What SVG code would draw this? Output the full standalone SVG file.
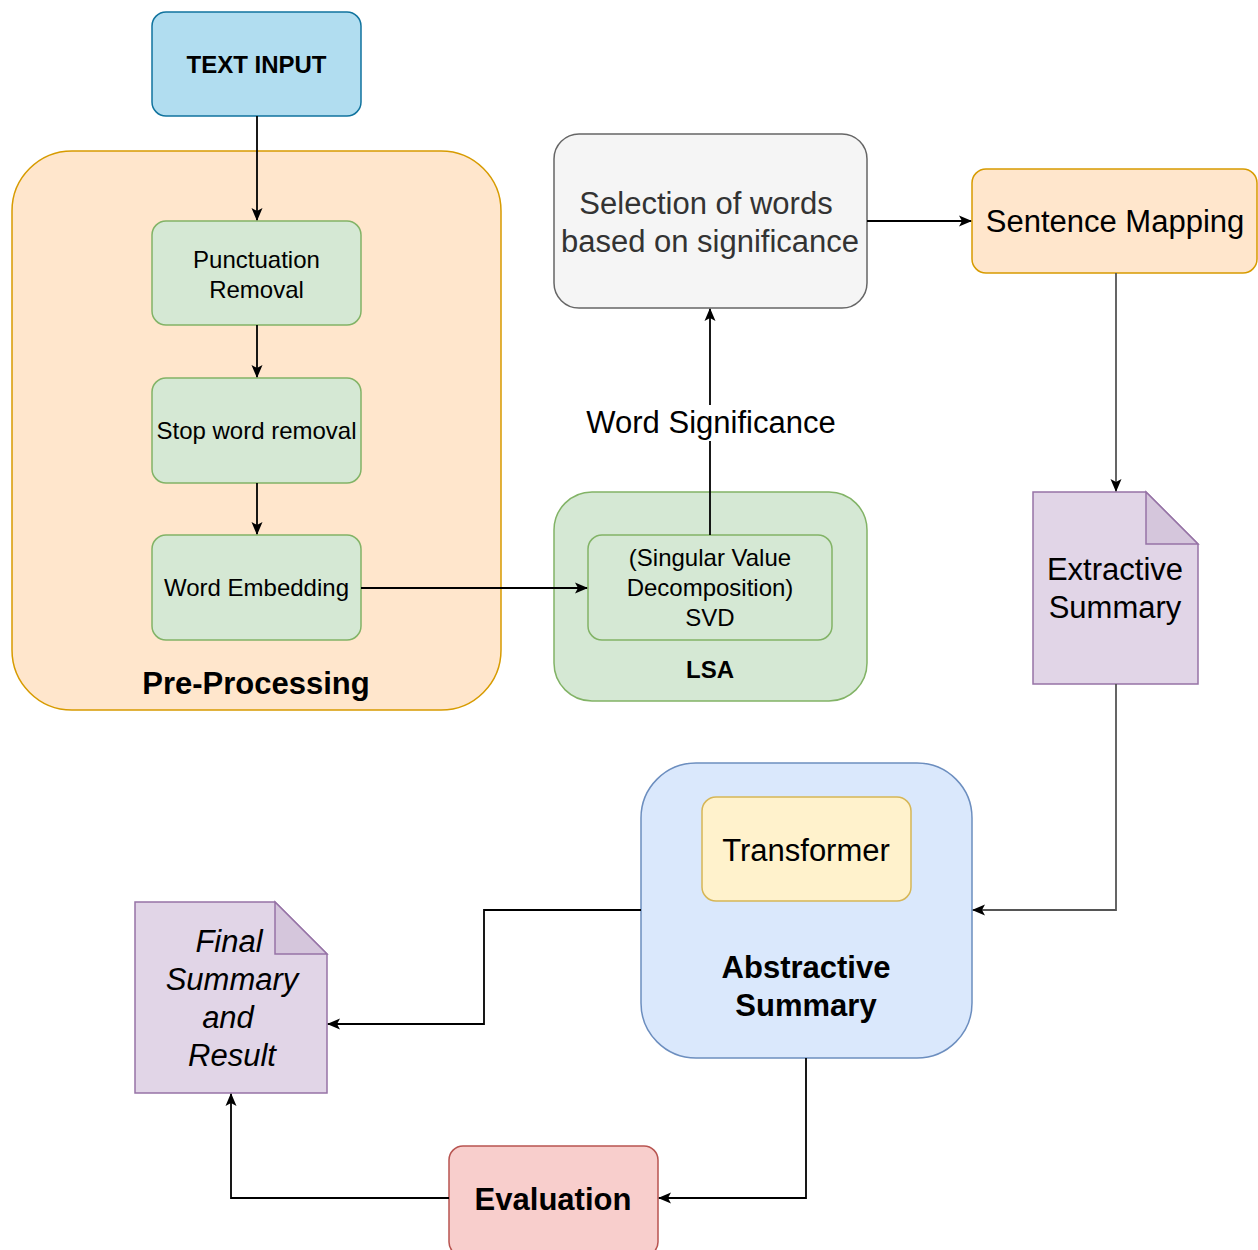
<svg xmlns="http://www.w3.org/2000/svg" width="1258" height="1250" viewBox="0 0 1258 1250">
  <defs>
    <style>
      text { font-family: "Liberation Sans", Arial, Helvetica, sans-serif; fill: #000; text-anchor: middle; }
      .s24 { font-size: 24px; }
      .s30 { font-size: 31px; }
      .b { font-weight: bold; }
      .i { font-style: italic; }
      .blue { fill: #b1ddf0; stroke: #10739e; stroke-width: 1.5; }
      .orange { fill: #ffe6cc; stroke: #d79b00; stroke-width: 1.5; }
      .green { fill: #d5e8d4; stroke: #82b366; stroke-width: 1.5; }
      .grey { fill: #f5f5f5; stroke: #666666; stroke-width: 1.5; }
      .purple { fill: #e1d5e7; stroke: #9673a6; stroke-width: 1.5; }
      .fold { fill: #d5c6dc; stroke: #9673a6; stroke-width: 1.5; }
      .lblue { fill: #dae8fc; stroke: #6c8ebf; stroke-width: 1.5; }
      .yellow { fill: #fff2cc; stroke: #d6b656; stroke-width: 1.5; }
      .red { fill: #f8cecc; stroke: #b85450; stroke-width: 1.5; }
      .edge { fill: none; stroke: #000; stroke-width: 1.8; marker-end: url(#arrow); }
      .edge-grey { fill: none; stroke: #555; stroke-width: 1.8; marker-end: url(#arrow); }
    </style>
    <marker id="arrow" markerWidth="15" markerHeight="14" refX="13" refY="7" orient="auto" markerUnits="userSpaceOnUse">
      <path d="M1,1.5 L14,7 L1,12.5 L4,7 Z" fill="#000"/>
    </marker>
  </defs>

  <!-- containers -->
  <g id="pre-processing">
    <rect class="orange" x="12" y="151" width="489" height="559" rx="60"/>
    <text class="s30 b" x="256" y="694">Pre-Processing</text>
  </g>
  <g id="lsa">
    <rect class="green" x="554" y="492" width="313" height="209" rx="38"/>
    <text class="s24 b" x="710" y="677.5">LSA</text>
  </g>
  <g id="abstractive-summary">
    <rect class="lblue" x="641" y="763" width="331" height="295" rx="55"/>
    <text class="s30 b" x="806" y="978">Abstractive</text>
    <text class="s30 b" x="806" y="1016">Summary</text>
  </g>

  <!-- nodes -->
  <g id="text-input">
    <rect class="blue" x="152" y="12" width="209" height="104" rx="14"/>
    <text class="s24 b" x="256.5" y="72.5">TEXT INPUT</text>
  </g>
  <g id="punctuation-removal">
    <rect class="green" x="152" y="221" width="209" height="104" rx="14"/>
    <text class="s24" x="256.5" y="267.5">Punctuation</text>
    <text class="s24" x="256.5" y="297.5">Removal</text>
  </g>
  <g id="stop-word-removal">
    <rect class="green" x="152" y="378" width="209" height="105" rx="14"/>
    <text class="s24" x="256.5" y="438.5">Stop word removal</text>
  </g>
  <g id="word-embedding">
    <rect class="green" x="152" y="535" width="209" height="105" rx="14"/>
    <text class="s24" x="256.5" y="595.5">Word Embedding</text>
  </g>
  <g id="svd">
    <rect class="green" x="588" y="535" width="244" height="105" rx="14"/>
    <text class="s24" x="710" y="565.5">(Singular Value</text>
    <text class="s24" x="710" y="595.5">Decomposition)</text>
    <text class="s24" x="710" y="625.5">SVD</text>
  </g>
  <g id="word-selection">
    <rect class="grey" x="554" y="134" width="313" height="174" rx="25"/>
    <text class="s30" x="706" y="214" style="fill:#333">Selection of words</text>
    <text class="s30" x="710" y="252" style="fill:#333">based on significance</text>
  </g>
  <g id="sentence-mapping">
    <rect class="orange" x="972" y="169" width="285" height="104" rx="14"/>
    <text class="s30" x="1115" y="232">Sentence Mapping</text>
  </g>
  <g id="extractive-summary">
    <path class="purple" d="M1033,492 H1146 L1198,544 V684 H1033 Z"/>
    <path class="fold" d="M1146,492 V544 H1198 Z"/>
    <text class="s30" x="1115" y="580">Extractive</text>
    <text class="s30" x="1115" y="618">Summary</text>
  </g>
  <g id="transformer">
    <rect class="yellow" x="702" y="797" width="209" height="104" rx="14"/>
    <text class="s30" x="806" y="861">Transformer</text>
  </g>
  <g id="final-summary">
    <path class="purple" d="M135,902 H275 L327,954 V1093 H135 Z"/>
    <path class="fold" d="M275,902 V954 H327 Z"/>
    <text class="s30 i" x="229" y="952">Final</text>
    <text class="s30 i" x="232" y="990">Summary</text>
    <text class="s30 i" x="228" y="1028">and</text>
    <text class="s30 i" x="232" y="1066">Result</text>
  </g>
  <g id="evaluation">
    <rect class="red" x="449" y="1146" width="209" height="110" rx="14"/>
    <text class="s30 b" x="553" y="1210">Evaluation</text>
  </g>

  <!-- connectors -->
  <g id="connectors">
    <path class="edge" d="M257,116 V220"/>
    <path class="edge" d="M257,325 V377"/>
    <path class="edge" d="M257,483 V534"/>
    <path class="edge" d="M361,588 H587"/>
    <path class="edge" d="M710,535 V309"/>
    <rect x="582" y="405" width="258" height="36" fill="#fff"/>
    <text class="s30" x="711" y="433">Word Significance</text>
    <path class="edge" d="M867,221 H971"/>
    <path class="edge-grey" d="M1116,273 V491"/>
    <path class="edge-grey" d="M1116,684 V910 H973"/>
    <path class="edge" d="M641,910 H484 V1024 H328"/>
    <path class="edge" d="M806,1058 V1198 H659"/>
    <path class="edge" d="M449,1198 H231 V1094"/>
  </g>
</svg>
